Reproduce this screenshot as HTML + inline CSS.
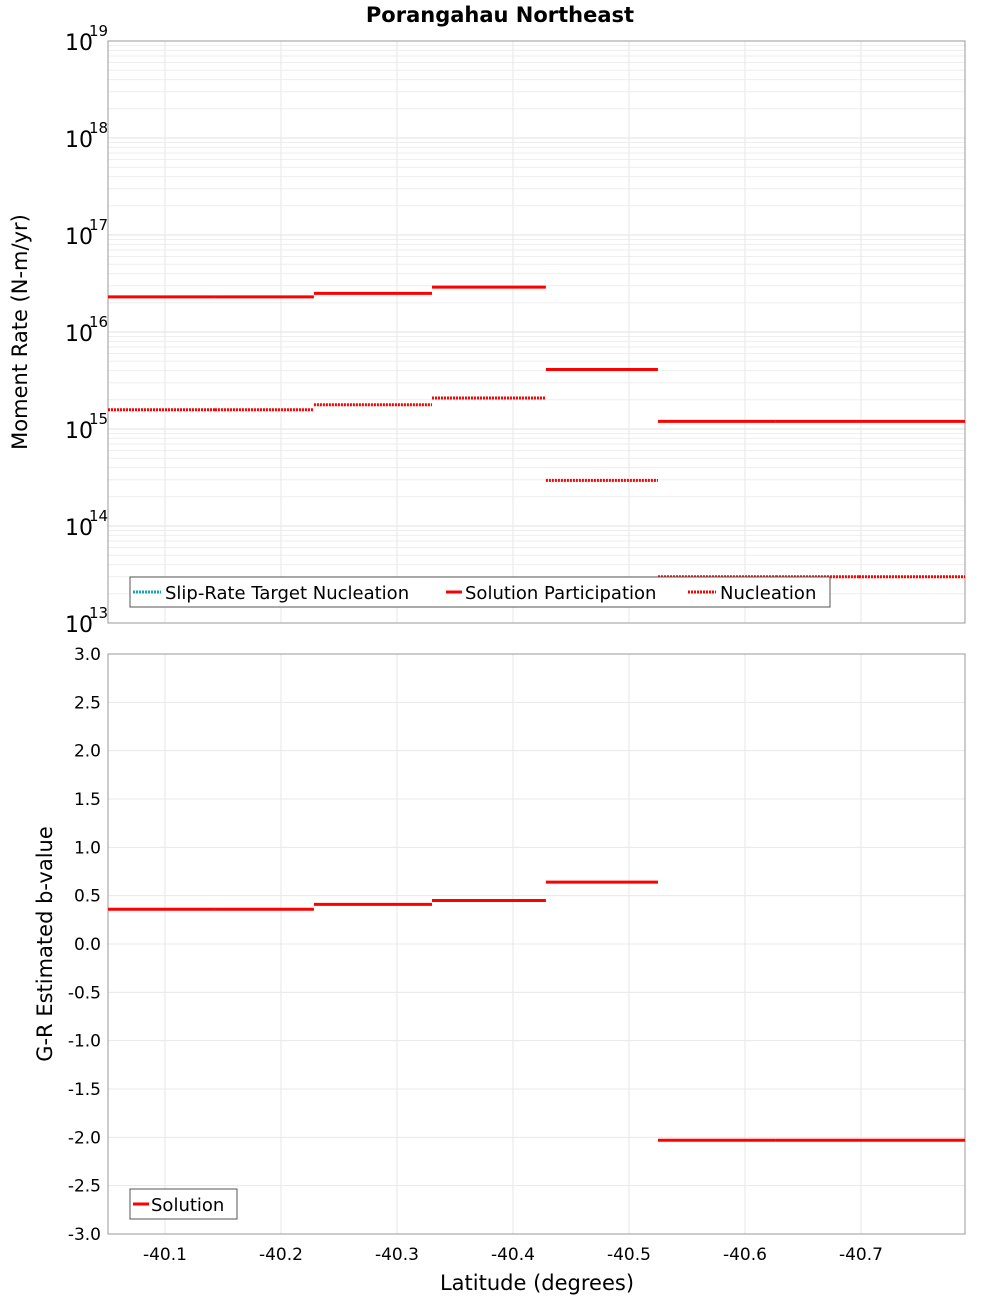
<!DOCTYPE html>
<html><head><meta charset="utf-8"><style>
body{margin:0;background:#fff;}
svg text{font-family:"DejaVu Sans","Liberation Sans",sans-serif;}
</style></head><body>
<svg id="c" width="1000" height="1300" xmlns="http://www.w3.org/2000/svg" style="position:absolute;left:0;top:0">
<text x="500" y="22" text-anchor="middle" font-size="21" font-weight="bold">Porangahau Northeast</text>
<g id="topg"></g><g id="botg"></g>
<text transform="translate(27,332) rotate(-90)" text-anchor="middle" font-size="21">Moment Rate (N-m/yr)</text>
<text transform="translate(52,944) rotate(-90)" text-anchor="middle" font-size="21">G-R Estimated b-value</text>
<text x="537" y="1290" text-anchor="middle" font-size="21">Latitude (degrees)</text>
<g>
<rect x="130" y="577" width="700" height="30" fill="#fff" stroke="#555"/>
<line x1="133" x2="161" y1="592" y2="592" stroke="#1aa" stroke-width="3" stroke-dasharray="2,1"/>
<text x="165" y="599" font-size="18">Slip-Rate Target Nucleation</text>
<line x1="446" x2="462" y1="592" y2="592" stroke="red" stroke-width="3"/>
<text x="465" y="599" font-size="18">Solution Participation</text>
<line x1="688" x2="716" y1="592" y2="592" stroke="red" stroke-width="3" stroke-dasharray="2,1"/>
<text x="720" y="599" font-size="18">Nucleation</text>
</g>
<g>
<rect x="130" y="1189" width="107" height="30" fill="#fff" stroke="#555"/>
<line x1="133" x2="149" y1="1204" y2="1204" stroke="red" stroke-width="3"/>
<text x="151" y="1211" font-size="18">Solution</text>
</g>
</svg>
<script>
const boundaries=[-40.0509,-40.1431,-40.2284,-40.3302,-40.4284,-40.5250,-40.6267,-40.6983,-40.7897];
const participation=[2.3e16,2.3e16,2.5e16,2.9e16,4.1e15,1.2e15,1.2e15,1.2e15];
const nucleation=[1.58e15,1.58e15,1.78e15,2.09e15,2.95e14,3.0e13,3.0e13,3.0e13];
const bValues=[0.36,0.36,0.41,0.45,0.64,-2.03,-2.03,-2.03];
const xTicks=[-40.1,-40.2,-40.3,-40.4,-40.5,-40.6,-40.7];
const logExps=[13,14,15,16,17,18,19];
const bTicks=[3,2.5,2,1.5,1,0.5,0,-0.5,-1,-1.5,-2,-2.5,-3];
const NS="http://www.w3.org/2000/svg";
const L=108,R=965;
const xs=v=>L+(v-boundaries[0])/(boundaries[boundaries.length-1]-boundaries[0])*(R-L);
const yT=v=>623-(Math.log10(v)-13)/6*(623-41);
const yB=v=>1234-(v+3)/6*(1234-654);
function mk(p,t,a){const e=document.createElementNS(NS,t);for(const k in a)e.setAttribute(k,a[k]);p.appendChild(e);return e;}
const topG=document.getElementById('topg'),botG=document.getElementById('botg');
for(let e=13;e<19;e++)for(let m=1;m<10;m++){const yy=yT(m*Math.pow(10,e));
 const g=mk(topG,'line',{x1:L,x2:R,y1:yy,y2:yy,stroke:m==1?'#e0e0e0':'#eeeeee','stroke-width':1});
 
 }
for(const t of xTicks){for(const [p,y1,y2] of [[topG,41,623],[botG,654,1234]]){const g=mk(p,'line',{x1:xs(t),x2:xs(t),y1:y1,y2:y2,stroke:'#e8e8e8'});
 
 }
 const tl=mk(botG,'text',{x:xs(t),y:1260,'text-anchor':'middle','font-size':17});tl.textContent=t.toFixed(1);
 
 }
for(const b of bTicks){const g=mk(botG,'line',{x1:L,x2:R,y1:yB(b),y2:yB(b),stroke:'#e8e8e8'});
 
 
 const tl=mk(botG,'text',{x:101,y:yB(b)+6,'text-anchor':'end','font-size':17});tl.textContent=b.toFixed(1);
 
 }
for(const e of logExps){const tl=mk(topG,'text',{x:65,y:yT(Math.pow(10,e))+9,'font-size':22});tl.textContent='10';
 
 
 const s=mk(topG,'text',{x:89,y:yT(Math.pow(10,e))-5,'font-size':15});s.textContent=e;
 
 }
for(const [p,y1,y2] of [[topG,41,623],[botG,654,1234]]){const f=mk(p,'rect',{x:L,y:y1,width:R-L,height:y2-y1,fill:'none',stroke:'#999'});
 
 }
for(let i=0;i<participation.length;i++){const x1=xs(boundaries[i]),x2=xs(boundaries[i+1]);
 let s=mk(topG,'line',{x1:x1,x2:x2,y1:yT(nucleation[i]),y2:yT(nucleation[i]),stroke:'red','stroke-width':3,'stroke-dasharray':'2,1'});
 
 
 s=mk(topG,'line',{x1:x1,x2:x2,y1:yT(participation[i]),y2:yT(participation[i]),stroke:'red','stroke-width':3});
 
 
 s=mk(botG,'line',{x1:x1,x2:x2,y1:yB(bValues[i]),y2:yB(bValues[i]),stroke:'red','stroke-width':3});
 
 }
</script>
</body></html>
